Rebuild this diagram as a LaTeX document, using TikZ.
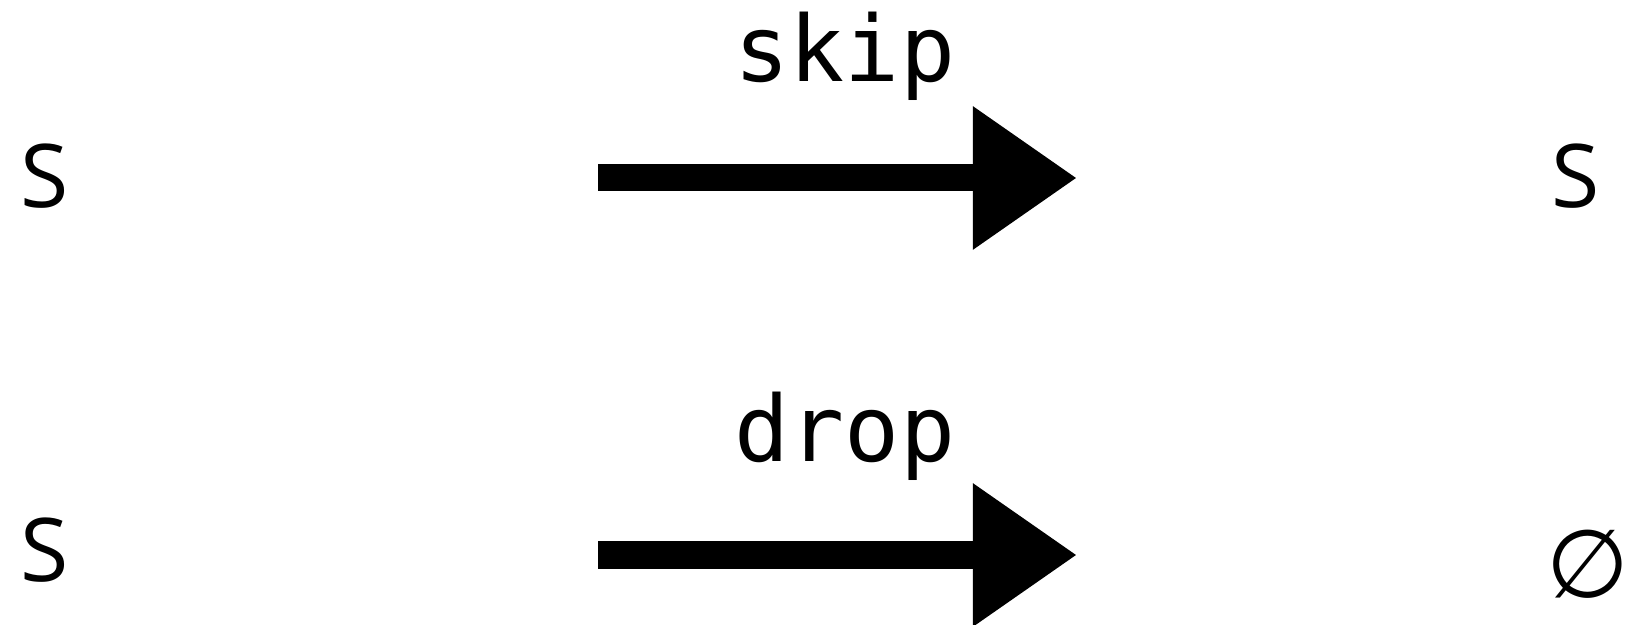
\documentclass[tikz,border=0pt]{standalone}
\usepackage{fontspec}
\setmainfont{Open Sans}
\setmonofont{DejaVu Sans Mono}
\newfontfamily\symfont{DejaVu Sans}
\usetikzlibrary{arrows.meta,positioning}

\begin{document}
\begin{tikzpicture}[x=0.01cm,y=-0.01cm,
  term/.style={inner sep=0pt,anchor=base,font=\fontsize{25}{30}\selectfont},
  op/.style={inner sep=0pt,anchor=base,font=\ttfamily\fontsize{26}{30}\selectfont},
  fat/.style={line width=0.27cm,-{Triangle[length=1.04cm,width=1.36cm]}}]
\useasboundingbox (0,0) rectangle (1635,625);
% skip row
\node[term] (s1) at (45,208) {S};
\node[term] (s2) at (1576,208) {S};
\coordinate (a1) at (598,178);
\coordinate (b1) at (1077,178);
\draw[fat] (a1) -- (b1);
\node[op] (skip) at (845,82) {skip};
% drop row
\node[term] (s3) at (45,582) {S};
\node[term,font=\symfont\fontsize{27}{30}\selectfont] (empty) at (1588,598) {∅};
\coordinate (a2) at (598,555);
\coordinate (b2) at (1077,555);
\draw[fat] (a2) -- (b2);
\node[op] (drop) at (845,462) {drop};
\end{tikzpicture}
\end{document}
